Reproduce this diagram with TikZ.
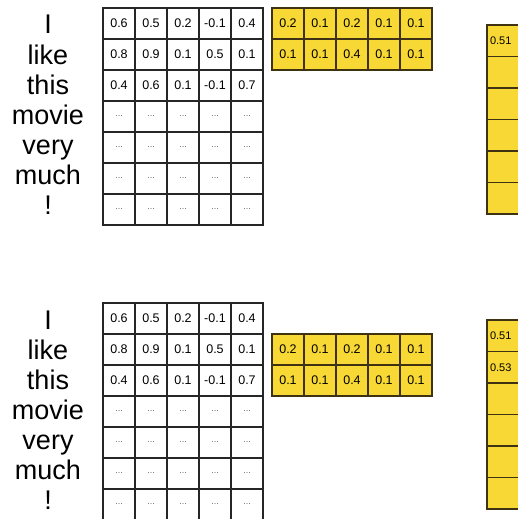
\documentclass[tikz,border=0pt]{standalone}
\usepackage{fontspec}
\setmainfont{Liberation Sans}
\definecolor{cellyel}{RGB}{248,216,52}
\definecolor{celledge}{RGB}{62,50,18}
\begin{document}
\begin{tikzpicture}[x=1pt,y=-1pt,
  every node/.style={font=\fontsize{12.5}{12.5}\selectfont},
  cell/.style={draw=black!85,line width=1.3pt,minimum width=32pt,minimum height=31pt,inner sep=0pt},
  ycell/.style={cell,draw=celledge,fill=cellyel},
  ocell/.style={ycell,minimum width=40pt,minimum height=31.5pt,text width=34pt,align=left,font=\fontsize{11}{11}\selectfont},
  word/.style={anchor=base,inner sep=0pt,font=\fontsize{27}{27}\selectfont}]
\useasboundingbox (0,0) rectangle (518,519);
\clip (0,0) rectangle (518,519);
% same sentence matrix twice, the yellow parts differ
\foreach \blk/\ytop/\yoff in {a/8/0,b/303/1} {
  \foreach \w [count=\r from 0] in {I,like,this,movie,very,much,!} {
    \pgfmathsetmacro{\y}{\ytop+26+\r*30.1}
    \node[word] (w\blk\r) at (48,\y) {\w};
  }
  \foreach \vals [count=\r from 0] in {{0.6,0.5,0.2,-0.1,0.4},{0.8,0.9,0.1,0.5,0.1},{0.4,0.6,0.1,-0.1,0.7}} {
    \foreach \v [count=\c from 0] in \vals {
      \node[cell] (e\blk\r\c) at (119+\c*32,\ytop+15.5+\r*31) {\v};
    }
  }
  \foreach \r in {3,...,6} {
    \foreach \c in {0,...,4} {
      \node[cell,text=black!60,font=\fontsize{9}{9}\selectfont] (e\blk\r\c) at (119+\c*32,\ytop+15.5+\r*31) {...};
    }
  }
  % filters
  \foreach \vals [count=\r from 0] in {{0.2,0.1,0.2,0.1,0.1},{0.1,0.1,0.4,0.1,0.1}} {
    \pgfmathsetmacro{\y}{\ytop+15.5+(\r+\yoff)*31}
    \foreach \v [count=\c from 0] in \vals {
      \node[ycell] (f\blk\r\c) at (288+\c*32,\y) {\v};
    }
  }
}
% output columns, cut at the right edge
\foreach \r/\lab in {0/0.51,1/{},2/{},3/{},4/{},5/{}}
  \node[ocell] (oa\r) at (507,25+15.75+\r*31.5) {\lab};
\foreach \r/\lab in {0/0.51,1/0.53,2/{},3/{},4/{},5/{}}
  \node[ocell] (ob\r) at (507,320+15.75+\r*31.5) {\lab};
\end{tikzpicture}
\end{document}
